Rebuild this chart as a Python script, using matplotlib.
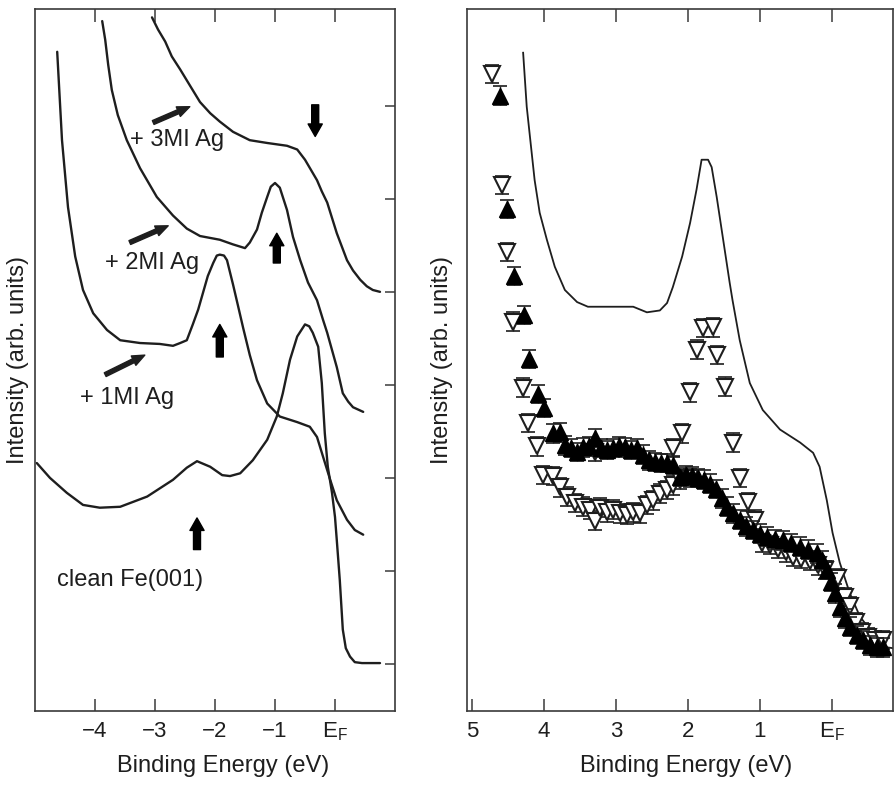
import matplotlib.pyplot as plt

plt.rcParams['font.family'] = ['Liberation Sans', 'DejaVu Sans']
plt.rcParams['mathtext.fontset'] = 'custom'
plt.rcParams['mathtext.rm'] = 'Liberation Sans'

INK = '#1e1e1e'
FRAME = '#3a3a3a'

# ---- left panel: spectra vs Ag coverage (energy in eV, E_F = 0) ----
clean_e = [-4.97, -4.75, -4.47, -4.20, -3.92, -3.58, -3.13, -2.70, -2.47, -2.30,
           -2.08, -1.88, -1.75, -1.58, -1.37, -1.13, -0.97, -0.87, -0.75, -0.63,
           -0.50, -0.43, -0.37, -0.28, -0.22, -0.17, -0.12, -0.05, 0.00, 0.03,
           0.08, 0.13, 0.18, 0.25, 0.33, 0.45, 0.75]
clean_i = [2.16, 2.00, 1.84, 1.71, 1.68, 1.69, 1.80, 1.98, 2.11, 2.18,
           2.12, 2.03, 2.02, 2.05, 2.19, 2.41, 2.66, 2.91, 3.27, 3.52,
           3.65, 3.63, 3.56, 3.41, 3.02, 2.48, 2.12, 1.84, 1.58, 1.33,
           0.90, 0.37, 0.17, 0.08, 0.02, 0.01, 0.01]

ag1_e = [-4.63, -4.55, -4.45, -4.33, -4.20, -4.03, -3.80, -3.58, -3.25, -2.92,
         -2.70, -2.58, -2.47, -2.37, -2.28, -2.20, -2.12, -2.03, -1.97, -1.92,
         -1.85, -1.80, -1.70, -1.62, -1.53, -1.42, -1.30, -1.13, -0.92, -0.63,
         -0.42, -0.30, -0.20, -0.08, 0.03, 0.20, 0.33, 0.47]
ag1_i = [6.58, 5.63, 4.91, 4.38, 4.02, 3.77, 3.59, 3.48, 3.45, 3.44,
         3.42, 3.45, 3.48, 3.65, 3.81, 3.99, 4.17, 4.31, 4.39, 4.40,
         4.39, 4.34, 4.08, 3.86, 3.61, 3.32, 3.05, 2.80, 2.66, 2.60,
         2.55, 2.44, 2.23, 1.98, 1.76, 1.55, 1.44, 1.39]

ag2_e = [-3.88, -3.83, -3.78, -3.72, -3.62, -3.47, -3.25, -2.97, -2.70, -2.47,
         -2.25, -1.92, -1.70, -1.50, -1.42, -1.30, -1.22, -1.13, -1.07, -1.00,
         -0.92, -0.80, -0.70, -0.58, -0.45, -0.30, -0.20, -0.13, 0.03, 0.13,
         0.22, 0.30, 0.47]
ag2_i = [6.91, 6.71, 6.44, 6.17, 5.90, 5.63, 5.33, 5.02, 4.82, 4.68,
         4.60, 4.56, 4.51, 4.47, 4.53, 4.67, 4.85, 5.02, 5.13, 5.17,
         5.12, 4.88, 4.59, 4.34, 4.10, 3.91, 3.70, 3.56, 3.19, 2.91,
         2.82, 2.76, 2.71]

ag3_e = [-3.05, -2.95, -2.83, -2.72, -2.58, -2.42, -2.25, -2.08, -1.92, -1.70,
         -1.42, -1.13, -0.80, -0.63, -0.50, -0.40, -0.30, -0.22, -0.13, 0.03,
         0.20, 0.30, 0.42, 0.53, 0.63, 0.75]
ag3_i = [6.95, 6.82, 6.69, 6.53, 6.39, 6.22, 6.04, 5.92, 5.83, 5.72,
         5.63, 5.60, 5.57, 5.53, 5.42, 5.31, 5.20, 5.08, 4.96, 4.63,
         4.34, 4.23, 4.13, 4.06, 4.02, 4.00]

curve_labels = ['clean Fe(001)', '+ 1MI Ag', '+ 2MI Ag', '+ 3MI Ag']
label_pos = [(-4.63, 0.90), (-4.25, 2.86), (-3.83, 4.31), (-3.42, 5.63)]
# slanted arrows (tail, head) and thick vertical markers (tail, head)
slant_arrows = [((-3.83, 3.11), (-3.17, 3.32)),
                ((-3.42, 4.53), (-2.78, 4.71)),
                ((-3.03, 5.82), (-2.42, 5.99))]
feature_arrows = [((-2.30, 1.23), (-2.30, 1.57)),
                  ((-1.92, 3.30), (-1.92, 3.65)),
                  ((-0.97, 4.31), (-0.97, 4.63)),
                  ((-0.33, 6.01), (-0.33, 5.67))]

# ---- right panel: solid spectrum and two triangle data sets ----
line_e = [4.29, 4.24, 4.19, 4.13, 4.06, 3.96, 3.85, 3.71, 3.54, 3.39,
          2.76, 2.57, 2.39, 2.29, 2.21, 2.08, 1.97, 1.88, 1.81, 1.72,
          1.67, 1.60, 1.51, 1.42, 1.38, 1.28, 1.14, 0.96, 0.72, 0.44,
          0.26, 0.17, 0.07, -0.01, -0.11, -0.25, -0.39, -0.57, -0.76, -0.85]
line_i = [6.57, 5.99, 5.63, 5.20, 4.85, 4.56, 4.27, 4.02, 3.89, 3.84,
          3.84, 3.78, 3.80, 3.88, 4.05, 4.38, 4.74, 5.10, 5.42, 5.42,
          5.34, 5.02, 4.56, 4.10, 3.91, 3.48, 3.02, 2.73, 2.52, 2.38,
          2.27, 2.12, 1.76, 1.41, 1.09, 0.76, 0.51, 0.33, 0.18, 0.17]

up_e = [4.61, 4.51, 4.42, 4.28, 4.21, 4.08, 4.00, 3.88, 3.78, 3.71,
        3.63, 3.54, 3.46, 3.38, 3.29, 3.21, 3.13, 3.04, 2.96, 2.88,
        2.79, 2.71, 2.63, 2.54, 2.46, 2.38, 2.29, 2.21,
        2.11, 2.03, 1.94, 1.86, 1.78, 1.69, 1.61, 1.53, 1.46, 1.38,
        1.28, 1.19, 1.10, 1.00, 0.90, 0.79, 0.68, 0.57, 0.44, 0.33,
        0.21, 0.14, 0.07, 0.01, -0.04, -0.11, -0.18, -0.25, -0.35, -0.43,
        -0.53, -0.63, -0.71]
up_i = [6.11, 4.89, 4.17, 3.75, 3.28, 2.90, 2.75, 2.48, 2.49, 2.35,
        2.32, 2.28, 2.33, 2.34, 2.43, 2.32, 2.30, 2.32, 2.34, 2.33,
        2.30, 2.32, 2.25, 2.19, 2.17, 2.16, 2.16, 2.14,
        2.01, 2.03, 2.02, 2.00, 1.98, 1.94, 1.88, 1.78, 1.69, 1.62,
        1.55, 1.48, 1.44, 1.40, 1.37, 1.34, 1.33, 1.30, 1.26, 1.23,
        1.19, 1.12, 1.01, 0.88, 0.76, 0.61, 0.49, 0.40, 0.31, 0.26,
        0.20, 0.18, 0.18]

down_e = [4.72, 4.58, 4.51, 4.43, 4.29, 4.22, 4.10, 3.29, 2.21, 2.08,
          1.97, 1.88, 1.79, 1.65, 1.60, 1.49, 1.38, 1.28, 1.17, 1.07,
          0.97,
          4.01, 3.88, 3.78, 3.68, 3.57, 3.46, 3.36, 3.29, 3.22, 3.13,
          3.04, 2.94, 2.85, 2.76, 2.67, 2.57, 2.49, 2.39, 2.29, 2.21,
          2.11, 1.97,
          0.86, 0.75, 0.64, 0.54, 0.43, 0.31, 0.19, 0.10, -0.08, -0.18,
          -0.25, -0.33, -0.42, -0.50, -0.60, -0.71]
down_i = [6.34, 5.15, 4.43, 3.68, 2.97, 2.59, 2.34, 2.28, 2.32, 2.48,
          2.92, 3.38, 3.61, 3.62, 3.32, 2.98, 2.38, 2.00, 1.74, 1.55,
          1.30,
          2.03, 2.02, 1.90, 1.80, 1.73, 1.69, 1.66, 1.54, 1.68, 1.63,
          1.66, 1.62, 1.60, 1.63, 1.62, 1.71, 1.76, 1.83, 1.87, 1.92,
          1.98, 2.00,
          1.28, 1.24, 1.20, 1.15, 1.13, 1.11, 1.06, 1.01, 0.92, 0.72,
          0.62, 0.45, 0.34, 0.29, 0.26, 0.26]

left_ticks = [-4, -3, -2, -1, 0]
right_ticks = [5, 4, 3, 2, 1, 0]
ef_label = r'$\mathregular{E_F}$'

fig = plt.figure(figsize=(8.94, 7.86), dpi=100)
axL = fig.add_axes([35 / 894, 75 / 786, 360 / 894, 702 / 786])
axR = fig.add_axes([467 / 894, 75 / 786, 426 / 894, 702 / 786])

for ax in (axL, axR):
    for sp in ax.spines.values():
        sp.set_color(FRAME)
        sp.set_linewidth(1.2)
    ax.set_ylim(-0.505, 7.04)
    ax.tick_params(axis='x', direction='in', length=9, width=1.1, color=FRAME,
                   labelsize=16, pad=7, labelcolor=INK)

# left panel
for e, i in [(clean_e, clean_i), (ag1_e, ag1_i), (ag2_e, ag2_i), (ag3_e, ag3_i)]:
    axL.plot(e, i, color=INK, lw=1.7, solid_joinstyle='round', solid_capstyle='round')

for txt, (x, y) in zip(curve_labels, label_pos):
    axL.text(x, y, txt, fontsize=17, color=INK, ha='left', va='center')

for tail, head in slant_arrows:
    axL.annotate('', xy=head, xytext=tail,
                 arrowprops=dict(arrowstyle='simple,head_length=0.9,head_width=0.75,tail_width=0.3',
                                 color=INK, mutation_scale=10, shrinkA=0, shrinkB=0))
for tail, head in feature_arrows:
    axL.annotate('', xy=head, xytext=tail,
                 arrowprops=dict(arrowstyle='simple,head_length=0.75,head_width=0.85,tail_width=0.42',
                                 color='black', mutation_scale=12, shrinkA=0, shrinkB=0))

axL.set_xlim(-5.0, 1.0)
axL.set_xticks(left_ticks)
axL.set_xticklabels(['\u22124', '\u22123', '\u22122', '\u22121', ef_label])
axL.tick_params(axis='x', top=True)
axL.set_yticks(range(7))
axL.tick_params(axis='y', direction='in', left=False, right=True, labelleft=False,
                length=7, width=1.1, color=FRAME)

# right panel
axR.plot(line_e, line_i, color=INK, lw=1.3, solid_joinstyle='round')
axR.errorbar(down_e, down_i, yerr=0.1, fmt='none', ecolor=INK, elinewidth=1.0,
             capsize=5, capthick=1.2, zorder=3)
axR.plot(down_e, down_i, 'v', ms=11, mfc='white', mec=INK, mew=1.5, zorder=4)
axR.errorbar(up_e, up_i, yerr=0.1, fmt='none', ecolor=INK, elinewidth=1.0,
             capsize=5, capthick=1.2, zorder=5)
axR.plot(up_e, up_i, '^', ms=11, mfc='black', mec='black', mew=1.0, zorder=6)

axR.set_xlim(5.07, -0.85)
axR.set_xticks(right_ticks)
axR.set_xticklabels(['5', '4', '3', '2', '1', ef_label])
axR.set_yticks([])
top = axR.secondary_xaxis('top')
top.set_xticks(right_ticks[1:])
top.tick_params(direction='in', length=9, width=1.1, color=FRAME, labeltop=False)
top.spines['top'].set_visible(False)

fig.text(18 / 894, 1 - 360 / 786, 'Intensity (arb. units)', rotation=90,
         ha='center', va='center', fontsize=17, color=INK)
fig.text(442 / 894, 1 - 360 / 786, 'Intensity (arb. units)', rotation=90,
         ha='center', va='center', fontsize=17, color=INK)
fig.text(223 / 894, 1 - 766 / 786, 'Binding Energy (eV)', ha='center', va='center',
         fontsize=17, color=INK)
fig.text(686 / 894, 1 - 766 / 786, 'Binding Energy (eV)', ha='center', va='center',
         fontsize=17, color=INK)

fig.savefig('out.png', dpi=100)
